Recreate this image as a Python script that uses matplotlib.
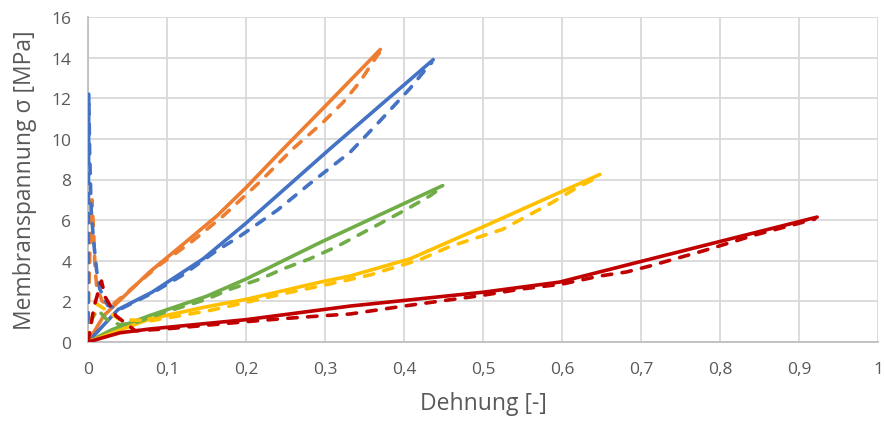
import matplotlib
matplotlib.use("Agg")
import matplotlib.pyplot as plt
from matplotlib.ticker import FixedLocator

# ---- data ----
orange_x = [0, 0.02, 0.078, 0.12, 0.163, 0.2, 0.247, 0.3, 0.37]
orange_y = [0, 1.3, 3.45, 4.8, 6.2, 7.6, 9.5, 11.6, 14.4]
orange_dx = [0, 0.0005, 0.002, 0.005, 0.007, 0.009, 0.011, 0.018, 0.03, 0.059, 0.089, 0.13,
             0.171, 0.218, 0.259, 0.297, 0.323, 0.344, 0.366, 0.37]
orange_dy = [0, 1.5, 4.0, 7.0, 5.5, 3.6, 2.75, 2.0, 1.8, 2.75, 3.75, 4.9,
             6.2, 7.9, 9.5, 10.8, 11.8, 12.8, 14.1, 14.3]

blue_x = [0, 0.038, 0.081, 0.146, 0.2, 0.306, 0.437]
blue_y = [0, 1.6, 2.45, 4.1, 5.85, 9.5, 13.9]
blue_dx = [0, 0.0005, 0.001, 0.002, 0.004, 0.007, 0.011, 0.015, 0.025, 0.04, 0.081, 0.12,
           0.163, 0.192, 0.24, 0.281, 0.332, 0.37, 0.408, 0.429, 0.435]
blue_dy = [0, 6.0, 12.2, 9.5, 6.5, 5.0, 3.5, 2.6, 1.8, 1.6, 2.4, 3.3,
           4.5, 5.2, 6.5, 7.8, 9.35, 10.9, 12.5, 13.5, 13.75]

green_x = [0, 0.03, 0.078, 0.15, 0.2, 0.294, 0.449]
green_y = [0, 0.6, 1.3, 2.25, 3.1, 4.9, 7.7]
green_dx = [0, 0.003, 0.012, 0.024, 0.04, 0.06, 0.1, 0.15, 0.18, 0.218, 0.247, 0.281,
            0.315, 0.344, 0.373, 0.404, 0.433, 0.449]
green_dy = [0, 1.0, 1.6, 1.1, 0.85, 0.95, 1.5, 2.1, 2.6, 3.1, 3.6, 4.1,
            4.7, 5.3, 5.9, 6.55, 7.2, 7.65]

yellow_x = [0, 0.078, 0.148, 0.2, 0.294, 0.332, 0.408, 0.5, 0.648]
yellow_y = [0, 1.13, 1.72, 2.1, 2.95, 3.25, 4.1, 5.67, 8.25]
yellow_dx = [0, 0.003, 0.01, 0.018, 0.025, 0.04, 0.08, 0.154, 0.2, 0.25, 0.294, 0.323,
             0.357, 0.39, 0.42, 0.458, 0.525, 0.589, 0.619, 0.645]
yellow_dy = [0, 0.8, 1.9, 1.7, 1.5, 1.1, 1.05, 1.55, 1.95, 2.4, 2.76, 3.0,
             3.3, 3.7, 4.05, 4.7, 5.55, 6.9, 7.6, 8.1]

red_x = [0, 0.04, 0.078, 0.2, 0.332, 0.5, 0.597, 0.673, 0.8, 0.923]
red_y = [0, 0.45, 0.64, 1.1, 1.77, 2.45, 2.95, 3.7, 4.95, 6.15]
red_dx = [0, 0.008, 0.017, 0.022, 0.028, 0.035, 0.06, 0.1, 0.2, 0.247, 0.3, 0.332, 0.4,
          0.5, 0.547, 0.6, 0.648, 0.682, 0.711, 0.78, 0.847, 0.92]
red_dy = [0, 1.8, 3.0, 2.2, 1.8, 1.3, 0.55, 0.65, 1.0, 1.15, 1.3, 1.38, 1.77,
          2.3, 2.6, 2.85, 3.25, 3.45, 3.74, 4.5, 5.3, 6.05]

x_ticks = [0, 0.1, 0.2, 0.3, 0.4, 0.5, 0.6, 0.7, 0.8, 0.9, 1.0]
x_labels = ["0", "0,1", "0,2", "0,3", "0,4", "0,5", "0,6", "0,7", "0,8", "0,9", "1"]
y_ticks = [0, 2, 4, 6, 8, 10, 12, 14, 16]
y_labels = ["0", "2", "4", "6", "8", "10", "12", "14", "16"]

colors = {"orange": "#ED7D31", "blue": "#4472C4", "green": "#70AD47",
          "yellow": "#FFC000", "red": "#C00000"}

plt.rcParams["font.family"] = ["Open Sans", "DejaVu Sans"]
text_color = "#595959"
grid_color = "#D9D9D9"

fig = plt.figure(figsize=(8.85, 4.27), dpi=100)
ax = fig.add_axes([88 / 885, 1 - 343 / 427, (878 - 88) / 885, (343 - 18) / 427])

lw = 2.6
series = [
    (orange_x, orange_y, orange_dx, orange_dy, colors["orange"]),
    (blue_x, blue_y, blue_dx, blue_dy, colors["blue"]),
    (green_x, green_y, green_dx, green_dy, colors["green"]),
    (yellow_x, yellow_y, yellow_dx, yellow_dy, colors["yellow"]),
    (red_x, red_y, red_dx, red_dy, colors["red"]),
]
for sx, sy, dx, dy, c in series:
    ax.plot(sx, sy, color=c, lw=lw, solid_capstyle="round", solid_joinstyle="round", zorder=3)
for sx, sy, dx, dy, c in series:
    ax.plot(dx, dy, color=c, lw=lw, linestyle=(0, (2.6, 2.9)), dash_capstyle="round",
            dash_joinstyle="round", zorder=3)

ax.set_xlim(0, 1)
ax.set_ylim(0, 16)
ax.xaxis.set_major_locator(FixedLocator(x_ticks))
ax.yaxis.set_major_locator(FixedLocator(y_ticks))
ax.set_xticklabels(x_labels)
ax.set_yticklabels(y_labels)
ax.tick_params(length=0, labelsize=12.5, colors=text_color)
ax.tick_params(axis="x", pad=14)
ax.tick_params(axis="y", pad=12)
ax.grid(True, color=grid_color, lw=1.3, zorder=0)
ax.set_axisbelow(True)
for s in ["top", "right"]:
    ax.spines[s].set_visible(False)
for s in ["left", "bottom"]:
    ax.spines[s].set_color("#BFBFBF")
    ax.spines[s].set_linewidth(1.3)

ax.set_xlabel("Dehnung [-]", fontsize=16.5, color=text_color, labelpad=10)
ax.set_ylabel("Membranspannung σ [MPa]", fontsize=16.5, color=text_color, labelpad=10)

fig.savefig("out.png", dpi=100)
